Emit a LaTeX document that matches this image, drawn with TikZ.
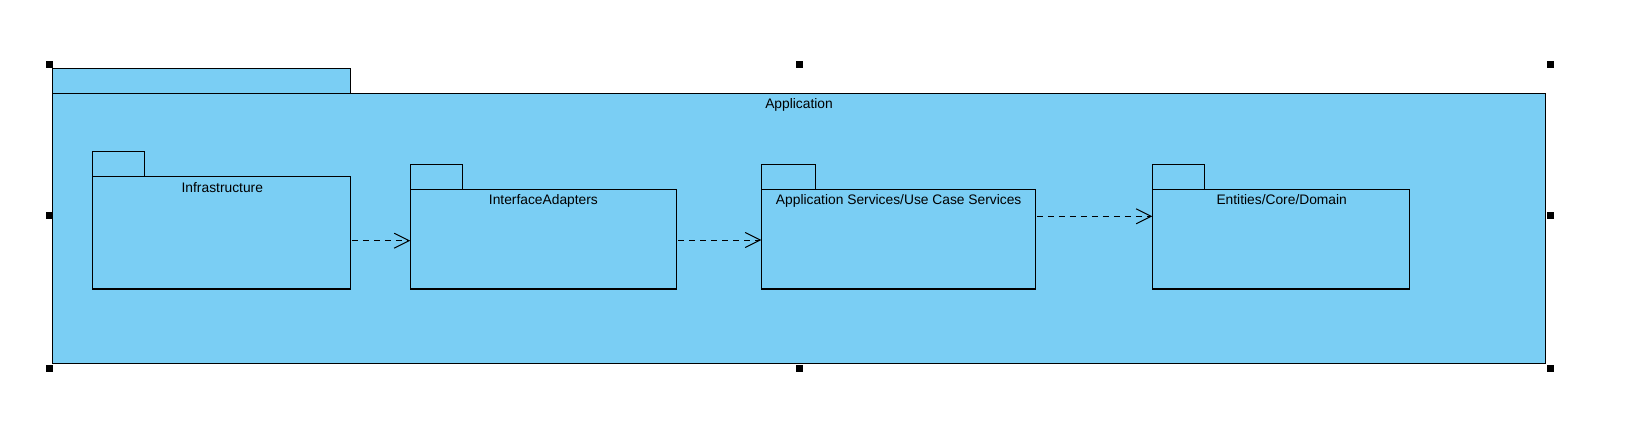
\documentclass[tikz,border=0pt]{standalone}
\usepackage{fontspec}
\setmainfont{Liberation Sans}
\usetikzlibrary{arrows.meta}
\definecolor{pkgblue}{RGB}{122,206,244}
\begin{document}
\begin{tikzpicture}[x=1pt,y=-1pt,
  pkg/.style={draw=black, fill=pkgblue, line width=1.1pt, inner sep=0pt, outer sep=0pt, rectangle},
  lbl/.style={font=\fontsize{13.8pt}{16pt}\selectfont, anchor=base, inner sep=0pt},
  dep/.style={draw=black, line width=1pt, dash pattern=on 6pt off 5pt, -{Straight Barb[length=15pt,width=15pt,line width=1pt]}},
  handle/.style={fill=black, draw=none, minimum size=7pt, inner sep=0pt, rectangle}]
\useasboundingbox (0,0) rectangle (1647,445);
% outer package
\node[pkg, anchor=north west, minimum width=1493.4pt, minimum height=270pt] (app) at (52.3,93.3) {};
\node[pkg, anchor=south west, minimum width=298pt, minimum height=25pt] (apptab) at (app.north west) {};
\node[lbl] (applbl) at (799,108.3) {Application};
% inner packages
\node[pkg, anchor=north west, minimum width=258pt, minimum height=112.7pt] (infra) at (92.3,176.3) {};
\node[pkg, anchor=south west, minimum width=52pt, minimum height=25pt] (infratab) at (infra.north west) {};
\node[lbl] (infralbl) at (222.3,192.3) {Infrastructure};
\node[pkg, anchor=north west, minimum width=266.2pt, minimum height=99.7pt] (ia) at (410.3,189.3) {};
\node[pkg, anchor=south west, minimum width=52pt, minimum height=25pt] (iatab) at (ia.north west) {};
\node[lbl] (ialbl) at (543.4,204.3) {InterfaceAdapters};
\node[pkg, anchor=north west, minimum width=274pt, minimum height=99.7pt] (as) at (761.3,189.3) {};
\node[pkg, anchor=south west, minimum width=54pt, minimum height=25pt] (astab) at (as.north west) {};
\node[lbl] (aslbl) at (898.7,204.3) {Application Services/Use Case Services};
\node[pkg, anchor=north west, minimum width=257pt, minimum height=99.7pt] (ent) at (1152.3,189.3) {};
\node[pkg, anchor=south west, minimum width=52pt, minimum height=25pt] (enttab) at (ent.north west) {};
\node[lbl] (entlbl) at (1281.7,204.3) {Entities/Core/Domain};
% dependencies
\coordinate (y1) at (0,240.7);
\coordinate (y2) at (0,240);
\coordinate (y3) at (0,216.3);
\draw[dep] ([xshift=1.5pt]infra.east |- y1) -- (ia.west |- y1);
\draw[dep] ([xshift=1.5pt]ia.east |- y2) -- (as.west |- y2);
\draw[dep] ([xshift=1.5pt]as.east |- y3) -- (ent.west |- y3);
% selection handles
\node[handle] (h1) at (49,64) {};
\node[handle] (h2) at (799,64) {};
\node[handle] (h3) at (1550,64) {};
\node[handle] (h4) at (49,215) {};
\node[handle] (h5) at (1550,215) {};
\node[handle] (h6) at (49,368) {};
\node[handle] (h7) at (799,368) {};
\node[handle] (h8) at (1550,368) {};
\end{tikzpicture}
\end{document}
